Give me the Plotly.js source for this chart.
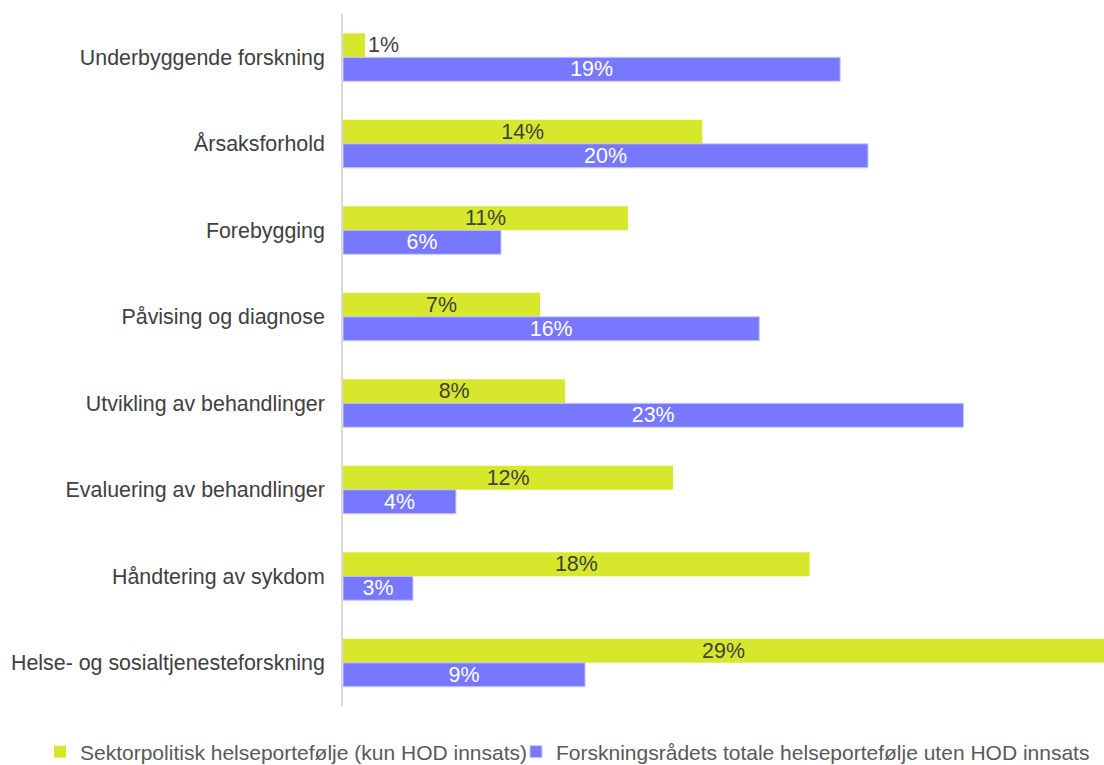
<!DOCTYPE html>
<html><head><meta charset="utf-8">
<script src="https://cdn.plot.ly/plotly-3.0.1.min.js"></script>
<style>body{margin:0;background:#fff}#chart{width:1104px;height:765px}</style>
</head><body><div id="chart"></div>
<script>
const categories = ["Underbyggende forskning","Årsaksforhold","Forebygging","Påvising og diagnose","Utvikling av behandlinger","Evaluering av behandlinger","Håndtering av sykdom","Helse- og sosialtjenesteforskning"];
const sektorValues = [0.0083, 0.1355, 0.1075, 0.0743, 0.0838, 0.1245, 0.176, 0.287];
const totalValues = [0.1875, 0.198, 0.0596, 0.157, 0.234, 0.0426, 0.0264, 0.0913];
const seriesNames = ["Sektorpolitisk helseportefølje (kun HOD innsats)", "Forskningsrådets totale helseportefølje uten HOD innsats"];

const font = "Liberation Sans, Arial, sans-serif";
const fs = 21.4;
const traces = [
  {type:"bar", orientation:"h", name:seriesNames[0], y:categories, x:sektorValues, legend:"legend",
   marker:{color:"#d7e82c"}, texttemplate:"%{x:.0%}", textposition:"auto",
   insidetextanchor:"middle", constraintext:"none",
   insidetextfont:{color:"#404040", size:fs, family:font},
   outsidetextfont:{color:"#404040", size:fs, family:font}, cliponaxis:false, hoverinfo:"none"},
  {type:"bar", orientation:"h", name:seriesNames[1], y:categories, x:totalValues, legend:"legend2",
   marker:{color:"#7878ff", line:{color:"#c8c8ff", width:1}}, texttemplate:"%{x:.0%}", textposition:"auto",
   insidetextanchor:"middle", constraintext:"none",
   insidetextfont:{color:"#ffffff", size:fs, family:font},
   outsidetextfont:{color:"#404040", size:fs, family:font}, cliponaxis:false, hoverinfo:"none"}
];
const legendBase = {orientation:"h", xref:"container", xanchor:"left", yref:"container", y:0.017, yanchor:"middle",
  font:{size:21, color:"#595959", family:font}, itemwidth:30, bgcolor:"rgba(0,0,0,0)"};
const layout = {
  width:1104, height:765,
  margin:{l:343, r:0, t:14, b:59, autoexpand:false},
  paper_bgcolor:"#fff", plot_bgcolor:"#fff",
  barmode:"group", bargap:0.445, bargroupgap:0,
  font:{family:font, size:fs, color:"#404040"},
  xaxis:{range:[0,0.287], showgrid:false, zeroline:false, showticklabels:false, showline:false, fixedrange:true},
  yaxis:{autorange:"reversed", showline:true, linecolor:"#d9d9d9", linewidth:2, ticks:"", ticklen:0,
         tickfont:{size:fs, color:"#404040", family:font}, showgrid:false, zeroline:false, ticksuffix:"  ", automargin:false},
  legend:Object.assign({}, legendBase, {x:40/1104}),
  legend2:Object.assign({}, legendBase, {x:516/1104}),
  showlegend:true
};
Plotly.newPlot("chart", traces, layout, {displayModeBar:false, staticPlot:true});
</script></body></html>
